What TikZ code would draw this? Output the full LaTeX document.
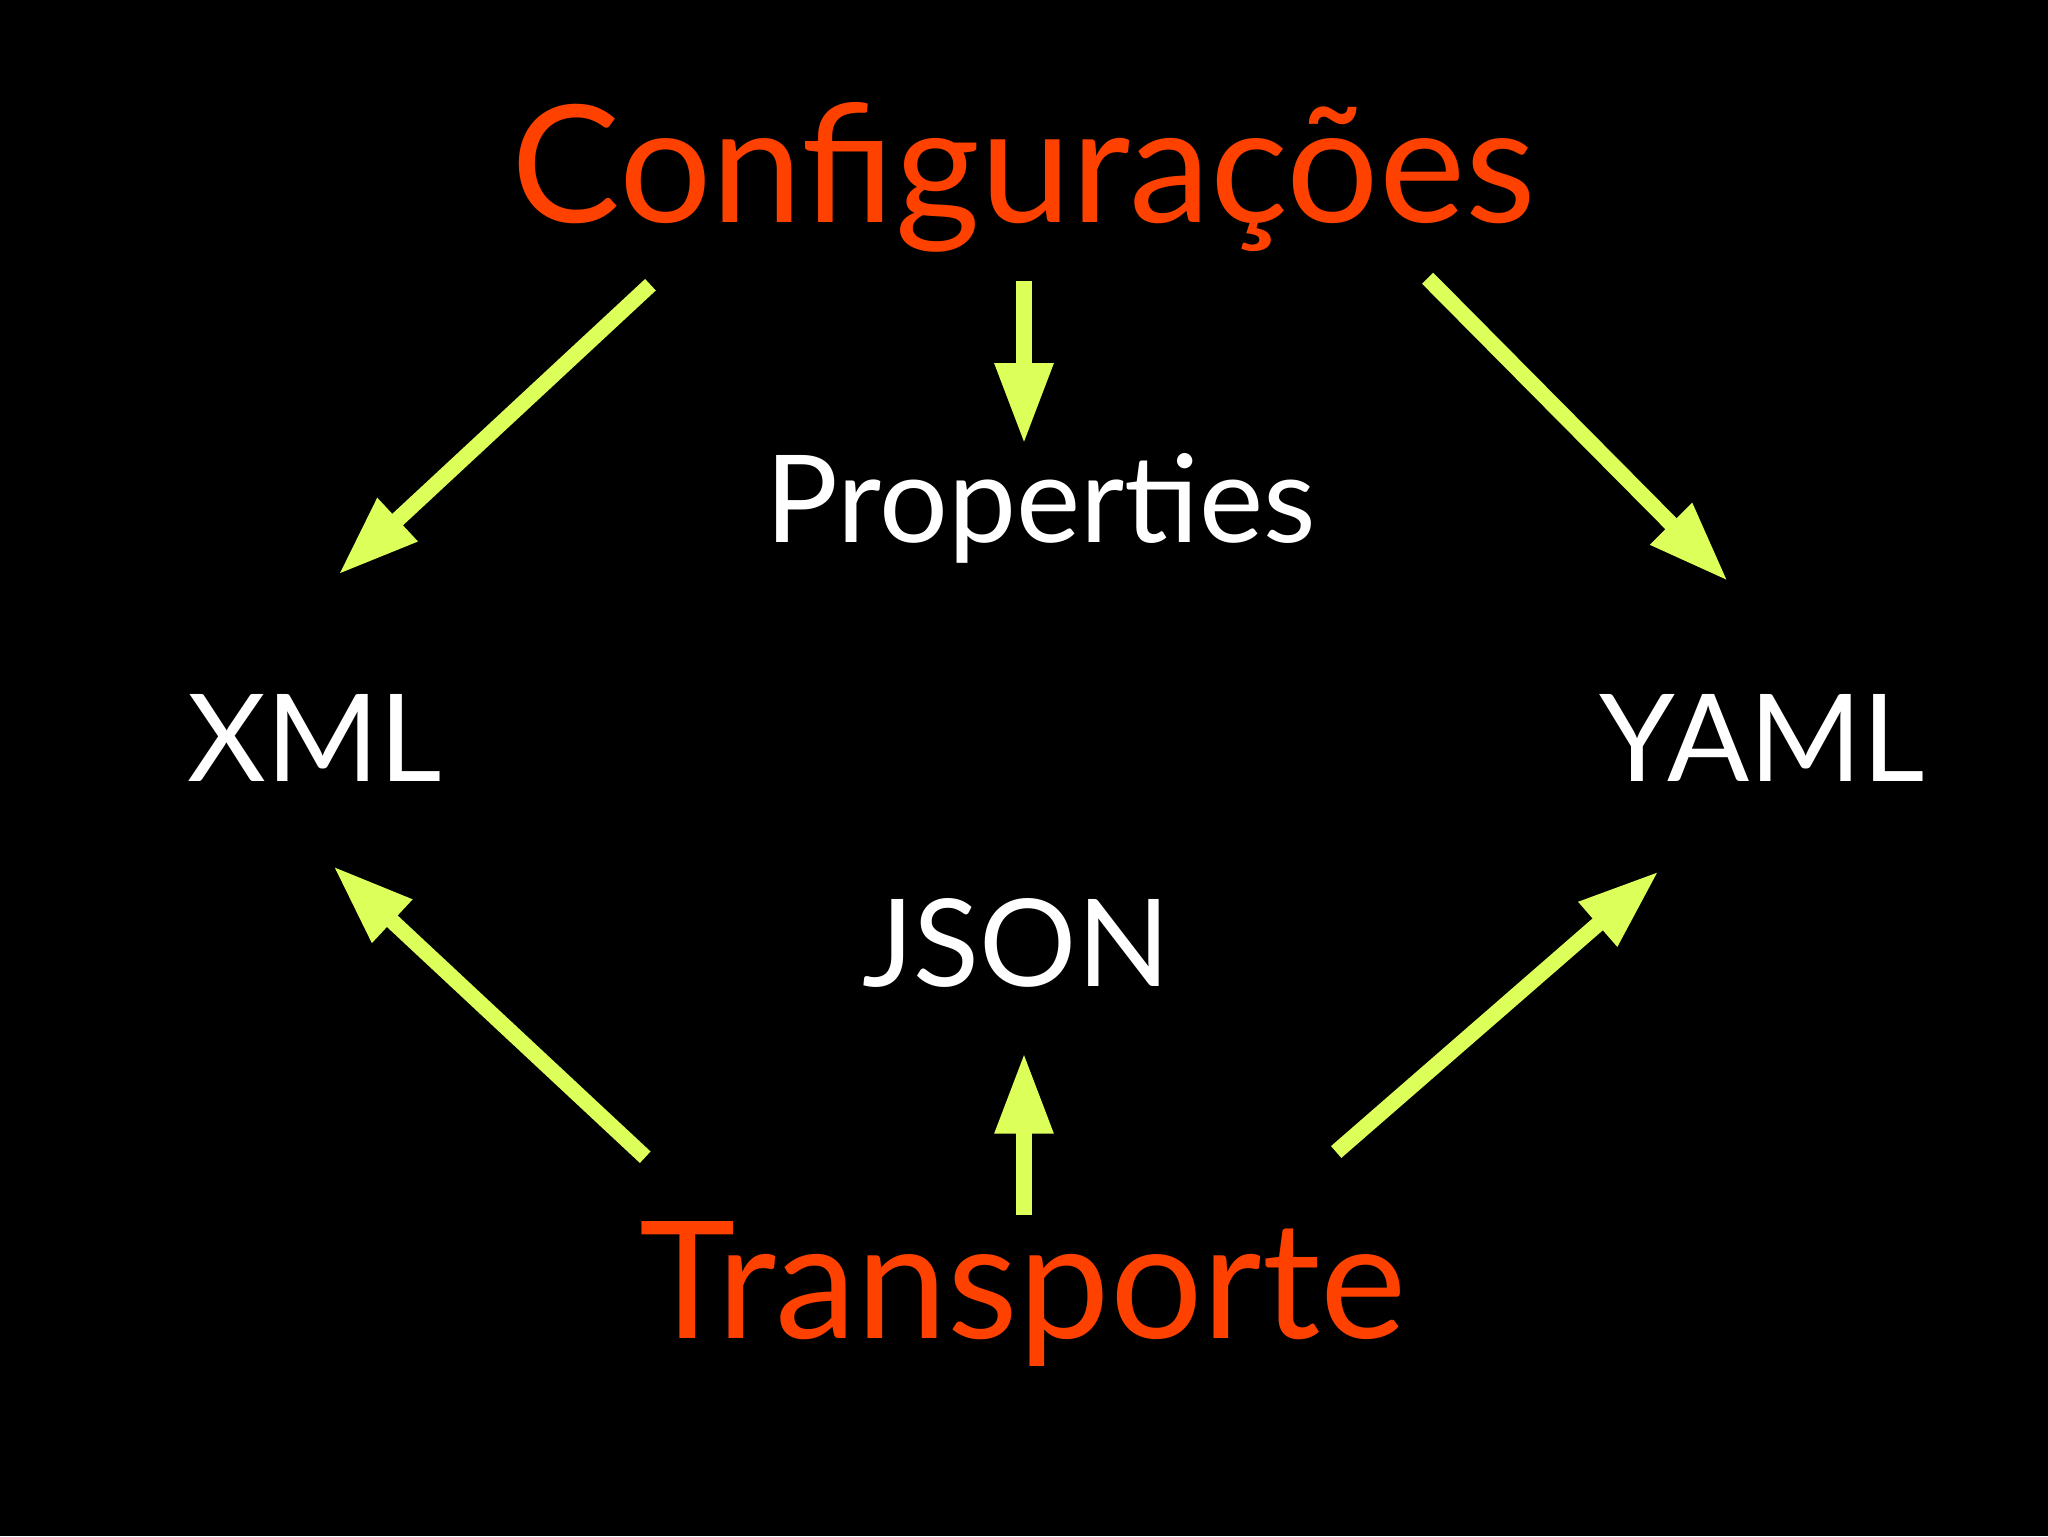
\documentclass[tikz,border=0pt]{standalone}
\usepackage{fontspec}
\setmainfont{Lato}
\usetikzlibrary{arrows.meta}
\definecolor{hot}{HTML}{FF4100}
\definecolor{lime}{HTML}{DDFF5A}
\tikzset{
  title/.style={text=hot,font=\fontsize{125}{130}\selectfont,anchor=base,inner sep=0pt},
  word/.style={text=white,font=\fontsize{93}{98}\selectfont,anchor=base,inner sep=0pt},
  arr/.style={draw=lime,line width=12pt,-{Triangle[width=42pt,length=62pt]}}
}
\begin{document}
\begin{tikzpicture}[x=1pt,y=-1pt]
\fill[black] (0,0) rectangle (1568,1176);
\useasboundingbox (0,0) rectangle (1568,1176);
\node[title] (conf) at (784,170) {Configurações};
\node[title] (trans) at (783,1025) {Transporte};
\node[word] (prop) at (797,415) {Properties};
\node[word] (xml) at (241,598) {XML};
\node[word] (yaml) at (1349,598) {YAML};
\node[word] (json) at (778,755) {JSON};
\coordinate (a1) at (498,218); \coordinate (b1) at (259,440);
\coordinate (a2) at (784,215); \coordinate (b2) at (784,340);
\coordinate (a3) at (1093,213); \coordinate (b3) at (1323,445);
\coordinate (a4) at (494,886); \coordinate (b4) at (255,663);
\coordinate (a5) at (784,930); \coordinate (b5) at (784,806);
\coordinate (a6) at (1023,882); \coordinate (b6) at (1270,667);
\foreach \i in {1,...,6} \draw[arr] (a\i) -- (b\i);
\end{tikzpicture}
\end{document}
